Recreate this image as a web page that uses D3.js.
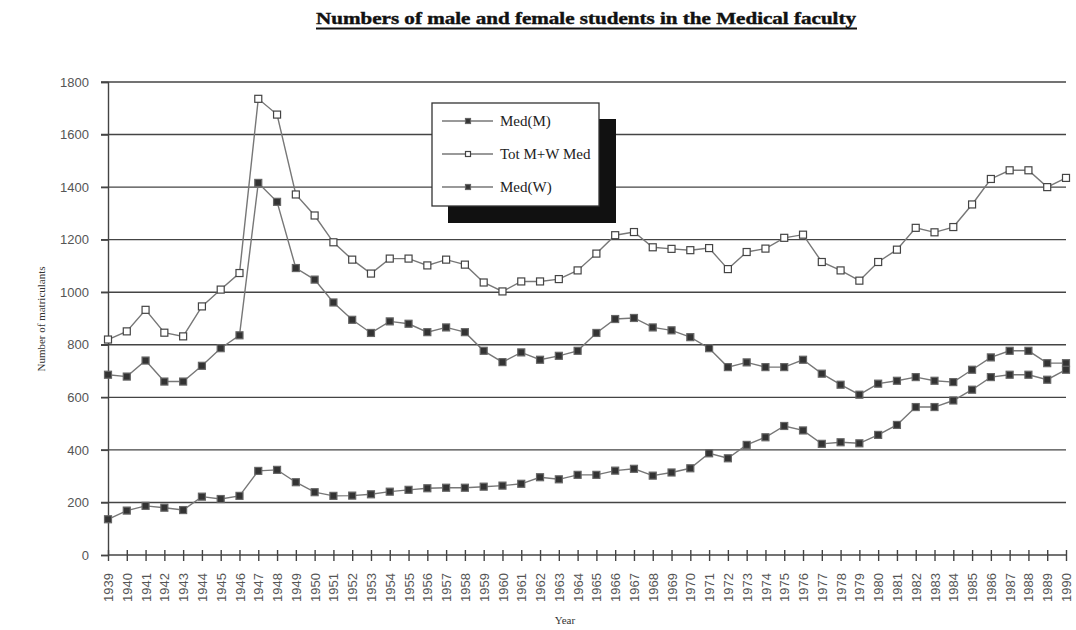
<!DOCTYPE html>
<html><head><meta charset="utf-8">
<script src="https://cdn.jsdelivr.net/npm/d3@7"></script>
<style>
html,body{margin:0;padding:0;background:#fff;}
svg{display:block;}
</style></head>
<body>
<svg id="chart" width="1076" height="630"></svg>
<script>
const years = d3.range(1939, 1991);
const yTicks = [0,200,400,600,800,1000,1200,1400,1600,1800];
const medM = [686,679,740,660,660,720,787,836,1416,1344,1092,1048,961,895,845,889,880,848,866,848,777,734,771,743,758,777,845,898,902,866,855,829,787,715,733,715,715,743,690,648,610,652,663,677,663,658,705,752,777,777,730,730];
const totMW = [820,851,933,846,832,946,1010,1073,1736,1676,1372,1292,1190,1124,1071,1128,1128,1102,1124,1105,1037,1003,1041,1041,1050,1083,1147,1217,1229,1171,1165,1160,1168,1088,1153,1166,1207,1219,1115,1083,1044,1115,1162,1245,1228,1248,1334,1431,1464,1464,1400,1435];
const medW = [136,169,187,180,171,222,213,225,320,324,277,239,225,226,231,241,248,254,256,256,260,264,271,296,288,305,305,321,328,302,314,330,387,368,419,448,491,474,423,429,425,457,495,563,563,588,629,677,686,686,667,705];
const seriesNames = ["Med(M)", "Tot M+W Med", "Med(W)"];
const seriesData = [medM, totMW, medW];
const seriesFill = ["#333", "#fff", "#333"];
const seriesStroke = ["#666", "#444", "#666"];

const svg = d3.select("#chart");
const x = d3.scalePoint().domain(years).range([108, 1066]);
const y = d3.scaleLinear().domain([0, 1800]).range([555, 82]);

// Title
svg.append("text").attr("x", 586).attr("y", 24).attr("text-anchor", "middle")
  .attr("font-family", "Liberation Serif, Times New Roman, serif").attr("font-weight", "bold")
  .attr("font-size", 17).attr("textLength", 540).attr("lengthAdjust", "spacingAndGlyphs")
  .attr("fill", "#111").attr("stroke", "#111").attr("stroke-width", 0.4)
  .text("Numbers of male and female students in the Medical faculty");
svg.append("line").attr("x1", 316).attr("x2", 857).attr("y1", 28.5).attr("y2", 28.5)
  .attr("stroke", "#111").attr("stroke-width", 1.8);

// Gridlines
svg.append("g").selectAll("line").data(yTicks.filter(d => d > 0)).join("line")
  .attr("x1", 101).attr("x2", 1066).attr("y1", d => y(d)).attr("y2", d => y(d))
  .attr("stroke", "#444").attr("stroke-width", 1.4);

// Y axis
const yAxis = svg.append("g").attr("transform", "translate(108,0)")
  .call(d3.axisLeft(y).tickValues(yTicks).tickSize(7).tickPadding(12).tickFormat(d3.format("d")));
yAxis.select(".domain").attr("stroke", "#444").attr("stroke-width", 1.4);
yAxis.selectAll(".tick line").attr("stroke", "#444").attr("stroke-width", 1.4);
yAxis.selectAll("text").attr("font-family", "Liberation Sans, Arial, sans-serif").attr("font-size", 13)
  .attr("fill", "#555");

// X axis
const xAxis = svg.append("g").attr("transform", "translate(0,555)")
  .call(d3.axisBottom(x).tickSize(6).tickPadding(4).tickSizeOuter(0));
xAxis.select(".domain").attr("stroke", "#444").attr("stroke-width", 1.4).attr("d", "M108,0H1066");
xAxis.selectAll(".tick line").attr("stroke", "#444").attr("stroke-width", 1.4).attr("y1", -5);
xAxis.selectAll("text").attr("font-family", "Liberation Sans, Arial, sans-serif").attr("font-size", 13)
  .attr("fill", "#555").attr("text-anchor", "end").attr("dy", "0.35em")
  .attr("transform", "translate(0,18) rotate(-90)").attr("x", -29).attr("y", 0)
  .attr("text-anchor", "start");

// Axis titles
svg.append("text").attr("transform", "translate(45,319) rotate(-90)").attr("text-anchor", "middle")
  .attr("font-family", "Liberation Serif, Times New Roman, serif").attr("font-size", 11)
  .attr("fill", "#333").text("Number of matriculants");
svg.append("text").attr("x", 565).attr("y", 624).attr("text-anchor", "middle")
  .attr("font-family", "Liberation Serif, Times New Roman, serif").attr("font-size", 11)
  .attr("fill", "#333").text("Year");

// Series
const line = d3.line().x((d, i) => x(years[i])).y(d => y(d));
seriesData.forEach((data, s) => {
  const g = svg.append("g");
  g.append("path").attr("d", line(data)).attr("fill", "none").attr("stroke", "#777").attr("stroke-width", 1.4);
  g.selectAll("rect").data(data).join("rect")
    .attr("x", (d, i) => x(years[i]) - 3.5).attr("y", d => y(d) - 3.5)
    .attr("width", 7).attr("height", 7)
    .attr("fill", seriesFill[s]).attr("stroke", seriesStroke[s]).attr("stroke-width", 1.2);
});

// Legend
const lg = svg.append("g");
lg.append("rect").attr("x", 448).attr("y", 119).attr("width", 168).attr("height", 104).attr("fill", "#111");
lg.append("rect").attr("x", 432).attr("y", 103).attr("width", 167).attr("height", 103)
  .attr("fill", "#fff").attr("stroke", "#333").attr("stroke-width", 1.3);
seriesNames.forEach((name, s) => {
  const ly = 121 + s * 33;
  lg.append("line").attr("x1", 442).attr("x2", 493).attr("y1", ly).attr("y2", ly)
    .attr("stroke", "#777").attr("stroke-width", 1.4);
  lg.append("rect").attr("x", 468 - 2.5).attr("y", ly - 2.5).attr("width", 5).attr("height", 5)
    .attr("fill", seriesFill[s]).attr("stroke", seriesStroke[s]).attr("stroke-width", 1.2);
  lg.append("text").attr("x", 500).attr("y", ly + 5)
    .attr("font-family", "Liberation Serif, Times New Roman, serif").attr("font-size", 15)
    .attr("fill", "#222").text(name);
});
</script>
</body></html>
